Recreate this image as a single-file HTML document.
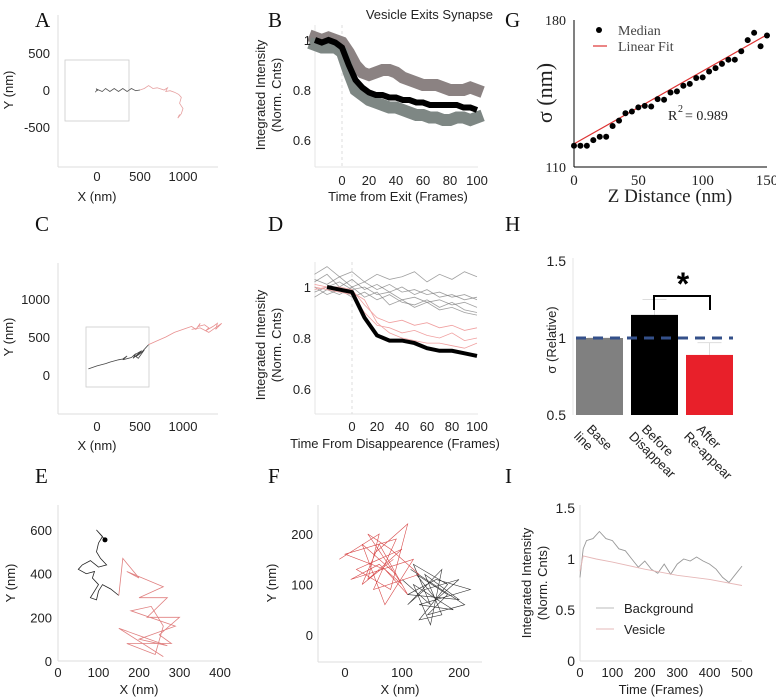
<!DOCTYPE html>
<html><head><meta charset="utf-8"><style>
html,body{margin:0;padding:0;background:#fff;}
svg{display:block;font-family:"Liberation Sans",sans-serif;}
.ser{font-family:"Liberation Serif",serif;}
</style></head><body>
<svg id="fig" width="776" height="698" viewBox="0 0 776 698" xmlns="http://www.w3.org/2000/svg">
<g class="ser" font-size="21" fill="#111">
<text x="35" y="27">A</text>
<text x="268" y="27">B</text>
<text x="505" y="27">G</text>
<text x="35" y="231">C</text>
<text x="268" y="231">D</text>
<text x="505" y="231">H</text>
<text x="35" y="483">E</text>
<text x="268" y="483">F</text>
<text x="505" y="483">I</text>
</g>
</svg>
<script>
// ---- data ----
const aGrayX=[-20,0,-10,10,0,60,100,150,200,250,300,350,400,450,500];
const aGrayY=[-30,0,20,-10,10,-20,20,-20,20,-20,20,-20,20,-10,0];
const aPinkX=[500,550,600,650,700,780,820,800,850,900,950,980,960,1000,980,940,960];
const aPinkY=[0,20,60,20,30,0,30,-20,-10,-30,-60,-100,-180,-250,-320,-380,-330];
const bFrames=[-20,-15,-10,-5,0,5,10,15,20,25,30,35,40,45,50,55,60,65,70,75,80,85,90,95,100];
const bMean=[1.0,0.99,1.0,0.99,0.97,0.9,0.84,0.81,0.79,0.78,0.78,0.77,0.77,0.76,0.76,0.75,0.75,0.74,0.74,0.74,0.74,0.74,0.73,0.73,0.72];
const bUpper=[1.01,1.0,1.01,1.0,0.99,0.95,0.9,0.87,0.86,0.87,0.88,0.88,0.87,0.85,0.84,0.83,0.82,0.82,0.82,0.81,0.8,0.8,0.8,0.81,0.8];
const bLower=[0.98,0.97,0.97,0.97,0.95,0.87,0.8,0.78,0.76,0.75,0.74,0.73,0.73,0.72,0.71,0.7,0.7,0.69,0.69,0.68,0.68,0.69,0.69,0.68,0.69];
const gZ=[0,5,10,15,20,25,30,35,40,45,50,55,60,65,70,75,80,85,90,95,100,105,110,115,120,125,130,135,140,145,150];
const gSigma=[120.1,120.1,120.1,122.8,124.4,124.4,129.5,132.1,135.6,136.4,138.4,139.1,138.8,142.3,142,145.5,146,148.7,149.6,152.4,152.7,155.5,157.1,159.1,161.1,161.1,165.1,170.4,173.9,167.5,172.6];
const gFit=[121,173];
const cGrayX=[-100,0,100,150,250,300,350,300,400,450,420,500,470,520,430,480,550,500,450,520,600];
const cGrayY=[80,120,150,170,200,210,250,200,230,280,220,300,260,320,260,220,330,280,240,300,400];
const cPinkX=[600,700,800,900,1000,1050,1100,1150,1200,1180,1250,1300,1260,1350,1400,1380,1450,1300,1200,1100];
const cPinkY=[400,450,500,560,600,620,640,600,680,640,660,620,580,640,680,600,680,560,620,600];
const dFrames=[-30,-20,-10,0,10,20,30,40,50,60,70,80,90,100];
const dMean=[1.0,1.0,0.99,0.98,0.88,0.81,0.79,0.79,0.78,0.76,0.75,0.75,0.74,0.73];
const dGray1=[1.02,1.05,1.0,1.03,0.99,1.01,0.98,1.0,0.97,0.99,0.96,0.97,0.95,0.96];
const dGray2=[0.98,1.0,1.02,0.99,1.0,0.97,0.98,0.95,0.96,0.94,0.95,0.93,0.94,0.92];
const dGray3=[1.05,1.08,1.04,1.06,1.02,1.05,1.03,1.04,1.06,1.02,1.05,1.03,1.06,1.04];
const dGray4=[1.0,0.97,0.99,0.96,0.98,0.95,0.97,0.94,0.93,0.95,0.92,0.94,0.91,0.9];
const dGray5=[1.03,1.01,1.04,1.0,1.02,0.99,1.01,0.98,0.99,0.97,0.98,0.96,0.97,0.95];
const dGray6=[0.96,0.99,0.97,1.0,0.96,0.98,0.93,0.95,0.92,0.94,0.91,0.92,0.9,0.89];
const dPink1=[1.0,0.99,0.98,0.97,0.9,0.85,0.84,0.82,0.83,0.81,0.8,0.82,0.79,0.8];
const dPink2=[1.01,1.0,1.0,0.99,0.93,0.88,0.86,0.87,0.85,0.86,0.84,0.85,0.83,0.84];
const dPink3=[0.99,1.0,0.99,0.98,0.95,0.86,0.82,0.8,0.79,0.78,0.78,0.77,0.76,0.78];
const hCats=["Base line","Before Disappear","After Re-appear"];
const hVals=[1.0,1.15,0.89];
const hErr=[1.0,1.25,0.97];
const eBlackX=[116,95,110,100,95,105,120,100,80,60,50,70,90,85,100,90,80,95,100,110,130,150];
const eBlackY=[555,600,570,540,500,470,440,430,460,440,420,400,410,380,350,320,290,280,320,350,330,300];
const ePinkX=[150,160,200,170,260,200,270,220,300,250,280,170,240,260,230,180,290,200,270,150,260];
const ePinkY=[300,470,380,410,340,290,290,200,200,120,80,80,30,160,250,230,160,100,70,150,20];
const fRedX=[-10,60,40,100,20,80,110,50,90,30,70,120,10,60,100,40,80,130,50,90,0,70,110,60,30,85];
const fRedY=[150,200,110,170,130,90,220,160,120,180,60,150,110,140,100,200,170,120,90,190,160,130,80,180,100,150];
const fBlackX=[100,150,120,180,130,170,140,200,110,160,220,130,190,120,150,170,110,140,200,160,125,180,145,210,115];
const fBlackY=[110,60,140,100,30,40,120,70,80,110,90,60,50,100,20,130,60,90,110,70,120,80,40,60,130];
const iFrames=[0,10,20,40,60,80,100,120,140,160,180,200,220,240,260,280,300,320,340,360,380,400,420,440,460,480,500];
const iBackground=[0.82,1.1,1.18,1.2,1.27,1.2,1.18,1.1,1.08,1.0,0.92,0.98,0.9,0.86,0.95,0.85,0.95,1.0,0.98,1.02,0.98,0.95,0.9,0.82,0.77,0.85,0.93];
const iVesFrames=[0,10,50,100,200,300,400,500];
const iVesicle=[0.88,1.03,1.0,0.97,0.9,0.84,0.8,0.74];

// ---- helpers ----
const NS="http://www.w3.org/2000/svg";
const svg=document.getElementById('fig');
function mk(tag,attrs,parent){const e=document.createElementNS(NS,tag);for(const k in attrs)e.setAttribute(k,attrs[k]);(parent||svg).appendChild(e);return e;}
function lin(d0,d1,r0,r1){return v=>r0+(v-d0)*(r1-r0)/(d1-d0);}
function pts(xs,ys,sx,sy){return xs.map((x,i)=>sx(x).toFixed(1)+','+sy(ys[i]).toFixed(1)).join(' ');}
function txt(x,y,s,opts,parent){const t=mk('text',Object.assign({x:x,y:y,'font-size':13,fill:'#222'},opts||{}),parent);t.textContent=s;return t;}
function axes(x0,y0,x1,y1,col,parent){
  mk('line',{x1:x0,y1:y0,x2:x0,y2:y1,stroke:col,'stroke-width':1},parent);
  mk('line',{x1:x0,y1:y1,x2:x1,y2:y1,stroke:col,'stroke-width':1},parent);
}

// ---- Panel A ----
{
const g=mk('g',{});


const sx=lin(0,500,97,140), sy=lin(0,500,90,53);
axes(58,15,218,167,'#ddd',g);
mk('rect',{x:65,y:60,width:64,height:61,fill:'none',stroke:'#ccc','stroke-width':0.8},g);
const l1=mk('polyline',{points:pts(aGrayX,aGrayY,sx,sy),fill:'none',stroke:'#555','stroke-width':0.8},g);


const l2=mk('polyline',{points:pts(aPinkX,aPinkY,sx,sy),fill:'none',stroke:'#e6a0a0','stroke-width':0.8},g);


[[500,'500'],[0,'0'],[-500,'-500']].forEach(t=>txt(50,sy(t[0])+5,t[1],{'text-anchor':'end'},g));
[[0,'0'],[500,'500'],[1000,'1000']].forEach(t=>txt(sx(t[0]),181,t[1],{'text-anchor':'middle'},g));
txt(97,201,'X (nm)',{'text-anchor':'middle'},g);
txt(0,0,'Y (nm)',{'text-anchor':'middle',transform:'translate(13,90) rotate(-90)'},g);
}

// ---- Panel B ----
{
const g=mk('g',{});


const sx=lin(0,100,342,477), sy=lin(0.8,1,90,40);
axes(315,25,478,167,'#e4e4e4',g);
mk('line',{x1:342,y1:25,x2:342,y2:167,stroke:'#ddd','stroke-dasharray':'3 3'},g);
const u=mk('polyline',{points:pts(bFrames,bUpper,sx,sy),fill:'none',stroke:'#8b8282','stroke-width':12,'stroke-linejoin':'miter','stroke-linecap':'square'},g);


const lo=mk('polyline',{points:pts(bFrames,bLower,sx,sy),fill:'none',stroke:'#7e8784','stroke-width':12,'stroke-linejoin':'miter','stroke-linecap':'square'},g);


const m=mk('polyline',{points:pts(bFrames,bMean,sx,sy),fill:'none',stroke:'#000','stroke-width':6},g);


[[1,'1'],[0.8,'0.8'],[0.6,'0.6']].forEach(t=>txt(311,sy(t[0])+5,t[1],{'text-anchor':'end'},g));
[0,20,40,60,80,100].forEach(v=>txt(sx(v),185,String(v),{'text-anchor':'middle'},g));
txt(398,201,'Time from Exit (Frames)',{'text-anchor':'middle'},g);
txt(493,19,'Vesicle Exits Synapse',{'text-anchor':'end','font-size':13},g);
txt(0,0,'Integrated Intensity',{'text-anchor':'middle',transform:'translate(265,95) rotate(-90)'},g);
txt(0,0,'(Norm. Cnts)',{'text-anchor':'middle',transform:'translate(281,95) rotate(-90)'},g);
}

// ---- Panel G ----
{
const g=mk('g',{class:'ser'});


const sx=lin(0,150,574,767), sy=lin(110,180,167,20);
axes(574,20,767,167,'#000',g);
const f=mk('line',{x1:sx(0),y1:sy(gFit[0]),x2:sx(150),y2:sy(gFit[1]),stroke:'#d33','stroke-width':1.2},g);


gZ.forEach((z,i)=>{const c=mk('circle',{cx:sx(z),cy:sy(gSigma[i]),r:3,fill:'#000'},g);

});
txt(566,25,'180',{'text-anchor':'end','font-size':14,class:'ser'},g);
txt(566,172,'110',{'text-anchor':'end','font-size':14,class:'ser'},g);
[0,50,100,150].forEach(v=>txt(sx(v),185,String(v),{'text-anchor':'middle','font-size':15,class:'ser'},g));
txt(670,202,'Z Distance (nm)',{'text-anchor':'middle','font-size':19,class:'ser'},g);
txt(0,0,'σ (nm)',{'text-anchor':'middle','font-size':22,class:'ser',transform:'translate(552,93) rotate(-90)'},g);
mk('circle',{cx:599,cy:30,r:3,fill:'#000'},g);
txt(618,35,'Median',{'font-size':14,class:'ser',fill:'#444'},g);
mk('line',{x1:593,y1:46,x2:607,y2:46,stroke:'#d33','stroke-width':1.2},g);
txt(618,51,'Linear Fit',{'font-size':14,class:'ser',fill:'#444'},g);
txt(668,120,'R',{'font-size':14,class:'ser'},g);
txt(678,112,'2',{'font-size':10,class:'ser'},g);
txt(685,120,'= 0.989',{'font-size':14,class:'ser'},g);
}

// ---- Panel C ----
{
const g=mk('g',{});


const sx=lin(0,500,97,140), sy=lin(0,500,375,337);
axes(58,263,218,414,'#ddd',g);
mk('rect',{x:86,y:327,width:63,height:60,fill:'none',stroke:'#ccc','stroke-width':0.8},g);
const l1=mk('polyline',{points:pts(cGrayX,cGrayY,sx,sy),fill:'none',stroke:'#444','stroke-width':0.8},g);


const l2=mk('polyline',{points:pts(cPinkX,cPinkY,sx,sy),fill:'none',stroke:'#e89090','stroke-width':0.8},g);


[[1000,'1000'],[500,'500'],[0,'0']].forEach(t=>txt(50,sy(t[0])+5,t[1],{'text-anchor':'end'},g));
[[0,'0'],[500,'500'],[1000,'1000']].forEach(t=>txt(sx(t[0]),431,t[1],{'text-anchor':'middle'},g));
txt(97,450,'X (nm)',{'text-anchor':'middle'},g);
txt(0,0,'Y (nm)',{'text-anchor':'middle',transform:'translate(13,337) rotate(-90)'},g);
}

// ---- Panel D ----
{
const g=mk('g',{});


const sx=lin(0,100,352,477), sy=lin(0.8,1,338,287);
axes(315,262,478,414,'#e4e4e4',g);
mk('line',{x1:352,y1:262,x2:352,y2:414,stroke:'#ddd','stroke-dasharray':'3 3'},g);
[dGray1,dGray2,dGray3,dGray4,dGray5,dGray6].forEach(arr=>{const l=mk('polyline',{points:pts(dFrames,arr,sx,sy),fill:'none',stroke:'#777','stroke-width':0.8,'stroke-opacity':0.7},g);

});
[dPink1,dPink2,dPink3].forEach(arr=>{const l=mk('polyline',{points:pts(dFrames,arr,sx,sy),fill:'none',stroke:'#f0a0a0','stroke-width':0.8},g);

});
const m=mk('polyline',{points:pts(dFrames.slice(1),dMean.slice(1),sx,sy),fill:'none',stroke:'#000','stroke-width':4},g);


[[1,'1'],[0.8,'0.8'],[0.6,'0.6']].forEach(t=>txt(311,sy(t[0])+5,t[1],{'text-anchor':'end'},g));
[0,20,40,60,80,100].forEach(v=>txt(sx(v),431,String(v),{'text-anchor':'middle'},g));
txt(395,448,'Time From Disappearence (Frames)',{'text-anchor':'middle'},g);
txt(0,0,'Integrated Intensity',{'text-anchor':'middle',transform:'translate(265,345) rotate(-90)'},g);
txt(0,0,'(Norm. Cnts)',{'text-anchor':'middle',transform:'translate(281,345) rotate(-90)'},g);
}

// ---- Panel H ----
{
const g=mk('g',{});


const sy=lin(0.5,1.5,415,261);
const bx=[576,631,686], bw=47, cols=['#808080','#000','#e8202a'];
mk('line',{x1:573,y1:258,x2:573,y2:415,stroke:'#e4e4e4'},g);
hVals.forEach((v,i)=>{
  mk('line',{x1:bx[i]+bw/2,y1:sy(hErr[i]),x2:bx[i]+bw/2,y2:sy(v),stroke:'#ddd','stroke-width':1},g);
  mk('line',{x1:bx[i]+bw/2-12,y1:sy(hErr[i]),x2:bx[i]+bw/2+12,y2:sy(hErr[i]),stroke:'#ddd','stroke-width':1},g);
  const r=mk('rect',{x:bx[i],y:sy(v),width:bw,height:sy(0.5)-sy(v),fill:cols[i]},g);
  
  
  const t=txt(0,0,'',{'font-size':13,transform:'translate('+(bx[i]+10)+',430) rotate(45)'},g);
  const w=hCats[i].split(' ');
  const t1=mk('tspan',{x:0,dy:0},t); t1.textContent=w[0];
  const t2=mk('tspan',{x:-4,dy:14},t); t2.textContent=w[1];
});
const d=mk('line',{x1:576,y1:sy(1),x2:733,y2:sy(1),stroke:'#34508a','stroke-width':3,'stroke-dasharray':'10 7'},g);


mk('polyline',{points:'654,310 654,296 710,296 710,310',fill:'none',stroke:'#000','stroke-width':2},g);
txt(683,295,'*',{'text-anchor':'middle','font-size':32,'font-weight':'bold',fill:'#000'},g);
[[1.5,'1.5'],[1,'1'],[0.5,'0.5']].forEach(t=>txt(566,sy(t[0])+5,t[1],{'text-anchor':'end','font-size':14},g));
txt(0,0,'σ  (Relative)',{'text-anchor':'middle','font-size':13,transform:'translate(556,340) rotate(-90)'},g);
}

// ---- Panel E ----
{
const g=mk('g',{});


const sx=lin(0,400,58,220), sy=lin(0,600,661,530);
axes(58,505,220,661,'#ddd',g);
const l1=mk('polyline',{points:pts(eBlackX,eBlackY,sx,sy),fill:'none',stroke:'#222','stroke-width':0.8},g);


const l2=mk('polyline',{points:pts(ePinkX,ePinkY,sx,sy),fill:'none',stroke:'#e08080','stroke-width':0.8},g);


mk('circle',{cx:sx(eBlackX[0]),cy:sy(eBlackY[0]),r:2.5,fill:'#000'},g);
[0,200,400,600].forEach(v=>txt(52,sy(v)+5,String(v),{'text-anchor':'end'},g));
[0,100,200,300,400].forEach(v=>txt(sx(v),677,String(v),{'text-anchor':'middle'},g));
txt(139,694,'X (nm)',{'text-anchor':'middle'},g);
txt(0,0,'Y (nm)',{'text-anchor':'middle',transform:'translate(15,583) rotate(-90)'},g);
}

// ---- Panel F ----
{
const g=mk('g',{});


const sx=lin(0,100,345,402), sy=lin(0,200,635,534);
axes(318,505,482,662,'#ddd',g);
const l2=mk('polyline',{points:pts(fBlackX,fBlackY,sx,sy),fill:'none',stroke:'#333','stroke-width':0.6},g);


const l1=mk('polyline',{points:pts(fRedX,fRedY,sx,sy),fill:'none',stroke:'#d84a4a','stroke-width':0.6},g);


[0,100,200].forEach(v=>txt(313,sy(v)+5,String(v),{'text-anchor':'end'},g));
[0,100,200].forEach(v=>txt(sx(v),677,String(v),{'text-anchor':'middle'},g));
txt(400,694,'X (nm)',{'text-anchor':'middle'},g);
txt(0,0,'Y (nm)',{'text-anchor':'middle',transform:'translate(276,583) rotate(-90)'},g);
}

// ---- Panel I ----
{
const g=mk('g',{});


const sx=lin(0,500,580,742), sy=lin(0,1.5,661,508);
axes(580,505,742,661,'#ddd',g);
const b=mk('polyline',{points:pts(iFrames,iBackground,sx,sy),fill:'none',stroke:'#999','stroke-width':0.9},g);


const v=mk('polyline',{points:pts(iVesFrames,iVesicle,sx,sy),fill:'none',stroke:'#e6b8b8','stroke-width':0.9},g);


[[1.5,'1.5'],[1,'1'],[0.5,'0.5'],[0,'0']].forEach(t=>txt(575,sy(t[0])+5,t[1],{'text-anchor':'end','font-size':14},g));
[0,100,200,300,400,500].forEach(x=>txt(sx(x),677,String(x),{'text-anchor':'middle'},g));
txt(661,694,'Time (Frames)',{'text-anchor':'middle'},g);
txt(0,0,'Integrated Intensity',{'text-anchor':'middle',transform:'translate(531,583) rotate(-90)'},g);
txt(0,0,'(Norm. Cnts)',{'text-anchor':'middle',transform:'translate(547,583) rotate(-90)'},g);
mk('line',{x1:596,y1:608,x2:614,y2:608,stroke:'#bbb'},g);
txt(624,613,'Background',{'font-size':13},g);
mk('line',{x1:596,y1:629,x2:614,y2:629,stroke:'#e6b8b8'},g);
txt(624,634,'Vesicle',{'font-size':13},g);
}
</script>
</body></html>
